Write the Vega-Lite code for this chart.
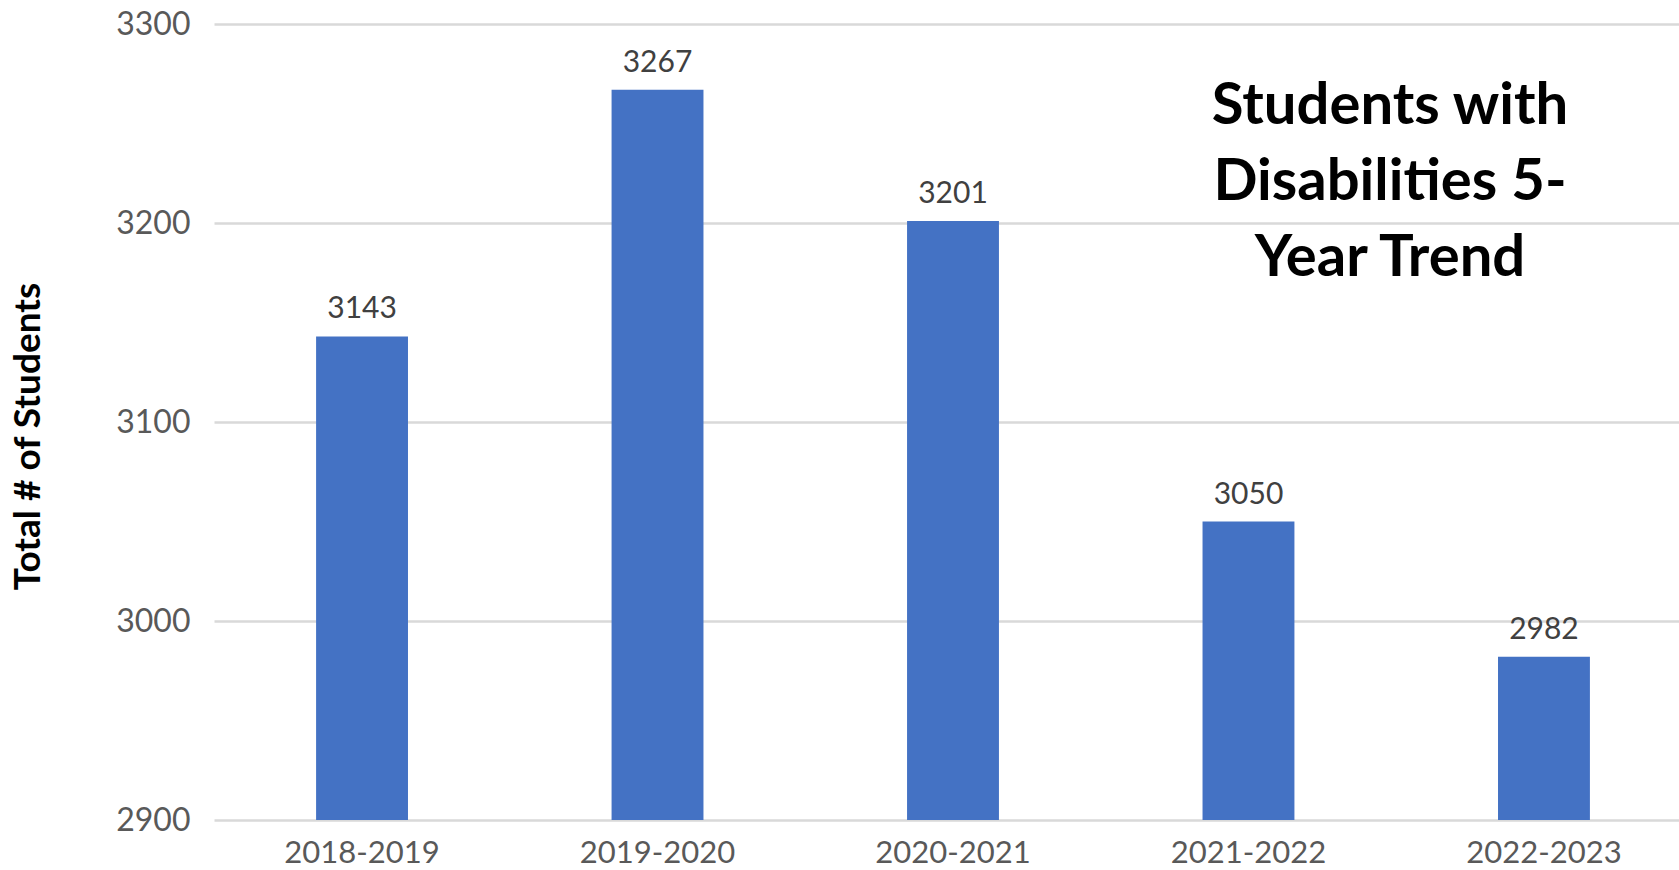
{
  "$schema": "https://vega.github.io/schema/vega-lite/v6.json",
  "autosize": {"type": "none"},
  "padding": {"left": 214, "top": 24, "right": 0, "bottom": 50},
  "width": 1465,
  "height": 796,
  "background": "#ffffff",
  "config": {"view": {"stroke": null}},
  "title": {
    "text": ["Students with", "Disabilities 5-", "Year Trend"],
    "orient": "top",
    "anchor": "middle",
    "frame": "group",
    "align": "center",
    "baseline": "top",
    "offset": 0,
    "dx": 443.5,
    "dy": 280,
    "font": "Lato",
    "fontSize": 58,
    "fontWeight": "bold",
    "color": "#000000",
    "lineHeight": 76
  },
  "data": {
    "values": [
      {"year": "2018-2019", "students": 3143},
      {"year": "2019-2020", "students": 3267},
      {"year": "2020-2021", "students": 3201},
      {"year": "2021-2022", "students": 3050},
      {"year": "2022-2023", "students": 2982}
    ]
  },
  "encoding": {
    "x": {
      "field": "year",
      "type": "nominal",
      "sort": null,
      "scale": {"paddingInner": 0.689, "paddingOuter": 0.3235, "align": 0.534},
      "axis": {
        "title": null,
        "labelAngle": 0,
        "labelLimit": 0,
        "domain": false,
        "ticks": false,
        "grid": false,
        "labelFont": "Lato",
        "labelFontSize": 31,
        "labelColor": "#595959",
        "labelPadding": 18
      }
    },
    "y": {
      "field": "students",
      "type": "quantitative",
      "scale": {"domain": [2900, 3300], "zero": false, "nice": false},
      "axis": {
        "title": "Total # of Students",
        "values": [2900, 3000, 3100, 3200, 3300],
        "format": "d",
        "domain": false,
        "ticks": false,
        "grid": true,
        "gridColor": "#d9d9d9",
        "gridWidth": 2.5,
        "labelFont": "Lato",
        "labelFontSize": 32,
        "labelColor": "#595959",
        "labelPadding": 24,
        "titleFont": "Lato",
        "titleFontSize": 37,
        "titleFontWeight": "bold",
        "titleColor": "#000000",
        "titleX": -186,
        "titleY": 412,
        "titleAlign": "center",
        "titleBaseline": "middle",
        "titleAngle": -90
      }
    }
  },
  "layer": [
    {"mark": {"type": "bar", "color": "#4472C4", "clip": true}},
    {
      "mark": {
        "type": "text",
        "baseline": "alphabetic",
        "dy": -18,
        "font": "Lato",
        "fontSize": 30,
        "color": "#404040"
      },
      "encoding": {"text": {"field": "students", "type": "quantitative", "format": "d"}}
    }
  ]
}
